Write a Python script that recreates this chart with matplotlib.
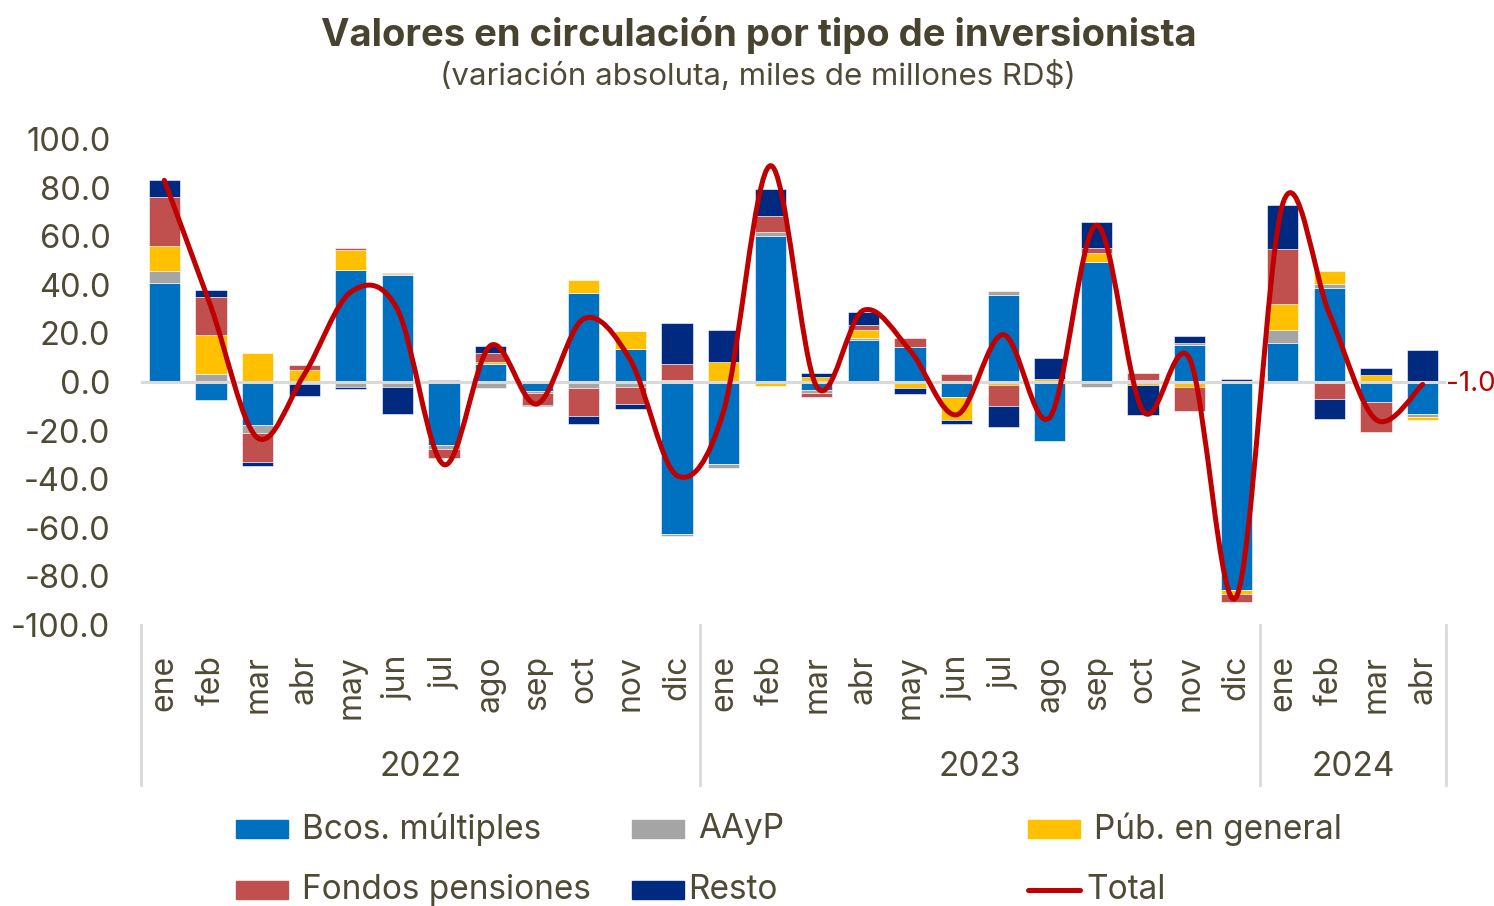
import numpy as np
import matplotlib
matplotlib.use("Agg")
import matplotlib.pyplot as plt
from matplotlib.path import Path
from matplotlib.patches import PathPatch, Rectangle
from matplotlib.lines import Line2D
import matplotlib.transforms as mtransforms

plt.rcParams['font.family'] = ['Inter', 'DejaVu Sans']

meses = ['ene', 'feb', 'mar', 'abr', 'may', 'jun', 'jul', 'ago', 'sep', 'oct', 'nov', 'dic',
         'ene', 'feb', 'mar', 'abr', 'may', 'jun', 'jul', 'ago', 'sep', 'oct', 'nov', 'dic',
         'ene', 'feb', 'mar', 'abr']
anios = ['2022', '2023', '2024']
meses_por_anio = [12, 12, 4]

# variacion absoluta por tipo de inversionista (miles de millones RD$)
bcos = [40.6, -7.5, -17.8, 0.0, 46.2, 43.9, -26.1, 7.3, -3.8, 36.6, 13.4, -62.4,
        -33.9, 60.1, -3.4, 17.3, 14.5, -6.2, 35.7, -24.1, 49.4, 0.0, 15.1, -85.5,
        16.0, 38.7, -8.2, -13.0]
aayp = [5.1, 3.4, -3.2, -1.0, -2.1, -2.1, -1.3, -2.5, -0.6, -2.5, -2.1, -1.1,
        -1.4, 1.8, -1.1, 0.9, 0.0, 0.0, 1.9, 0.0, -2.1, 0.9, 0.9, 0.0,
        5.3, 1.8, 0.0, -1.4]
pub = [10.4, 15.8, 11.9, 5.1, 8.3, 0.5, 0.0, 1.1, 0.0, 5.2, 7.5, 0.7,
       8.1, -1.8, 2.1, 3.1, -2.3, -9.3, -1.1, 1.4, 3.7, -1.1, -2.2, -1.6,
       10.9, 5.0, 2.7, -1.1]
fondos = [20.2, 15.8, -11.9, 2.0, 0.5, 0.6, -3.9, 3.5, -4.9, -11.6, -6.8, 6.8,
          0.0, 6.4, -1.7, 2.1, 3.7, 3.4, -8.9, 0.0, 2.0, 2.6, -9.9, -3.4,
          22.7, -7.1, -12.4, 0.0]
resto = [6.8, 2.7, -1.7, -4.8, -0.8, -11.2, 0.7, 2.9, -0.6, -3.0, -2.1, 16.9,
         13.2, 11.0, 1.4, 5.3, -2.5, -1.6, -8.5, 8.5, 10.7, -12.6, 2.8, 1.4,
         18.1, -8.0, 3.2, 13.3]
total = [83.0, 31.0, -23.0, 3.0, 37.0, 30.0, -34.0, 15.0, -9.0, 26.0, 9.0, -38.5,
         -12.0, 89.0, -2.0, 29.5, 13.0, -13.5, 19.5, -14.5, 64.5, -12.0, 9.5, -88.5,
         73.5, 28.0, -15.5, -1.0]

series = [('Bcos. múltiples', bcos, '#0070C0'),
          ('AAyP', aayp, '#A5A5A5'),
          ('Púb. en general', pub, '#FFC000'),
          ('Fondos pensiones', fondos, '#C0504D'),
          ('Resto', resto, '#002A80')]
color_total = '#C00000'
color_texto = '#4F4A35'
color_linea = '#D9D9D9'

W, H = 1494, 906
fig = plt.figure(figsize=(W / 100, H / 100), dpi=100)
ax = fig.add_axes([141 / W, 1 - 625 / H, 1305 / W, 486 / H])

x = np.arange(len(meses))
pos_base = np.zeros(len(x))
neg_base = np.zeros(len(x))
for nombre, vals, col in series:
    v = np.array(vals)
    base = np.where(v >= 0, pos_base, neg_base)
    ax.bar(x, v, 0.67, bottom=base, color=col, edgecolor='white', linewidth=0.4, zorder=2)
    pos_base += np.where(v >= 0, v, 0)
    neg_base += np.where(v < 0, v, 0)

ax.axhline(0, color=color_linea, lw=2.2, zorder=3)

# linea suavizada (catmull-rom en bezier cubicas)
pts = np.column_stack([x, total]).astype(float)
ext = np.vstack([pts[0], pts, pts[-1]])
verts = [pts[0]]
codes = [Path.MOVETO]
for i in range(len(pts) - 1):
    p0, p1, p2, p3 = ext[i], ext[i + 1], ext[i + 2], ext[i + 3]
    verts += [p1 + (p2 - p0) / 6, p2 - (p3 - p1) / 6, p2]
    codes += [Path.CURVE4] * 3
ax.add_patch(PathPatch(Path(verts, codes), fill=False, ec=color_total, lw=3.6,
                       capstyle='round', joinstyle='round', zorder=4))
ax.annotate('{:.1f}'.format(total[-1]), (x[-1], total[-1]), xytext=(17, 0),
            textcoords='offset points', ha='left', va='center',
            color=color_total, fontsize=20)

ax.set_xlim(-0.5, len(x) - 0.5)
ax.set_ylim(-100, 100)
ax.set_yticks(np.arange(-100, 101, 20))
ax.set_yticklabels(['{:.1f}'.format(t) for t in np.arange(-100, 101, 20)])
ax.tick_params(axis='y', length=0, pad=22, labelsize=23.5, labelcolor=color_texto)
ax.set_xticks([])
for s in ax.spines.values():
    s.set_visible(False)

# eje de categorias en dos niveles
trans = mtransforms.blended_transform_factory(ax.transData, ax.transAxes)
for i, m in enumerate(meses):
    ax.text(i, -30 / 486, m, transform=trans, rotation=90, ha='center', va='top',
            fontsize=23, color=color_texto)
limites = np.concatenate([[0], np.cumsum(meses_por_anio)]) - 0.5
for b in limites:
    ax.plot([b, b], [0, -160 / 486], transform=trans, color=color_linea, lw=2,
            clip_on=False)
for k, a in enumerate(anios):
    ax.text((limites[k] + limites[k + 1]) / 2, -142 / 486, a, transform=trans,
            ha='center', va='center', fontsize=24, color=color_texto)

fig.text(0.508, 1 - 35 / H, 'Valores en circulación por tipo de inversionista',
         ha='center', va='center', fontsize=27.5, fontweight='bold', color='#47432E')
fig.text(0.507, 1 - 76 / H, '(variación absoluta, miles de millones RD$)',
         ha='center', va='center', fontsize=22.5, color=color_texto)

# leyenda
entradas = [(series[0], 236, 829), (series[1], 632, 829), (series[2], 1028, 829),
            (series[3], 236, 890), (series[4], 632, 890)]
for (nombre, vals, col), px, py in entradas:
    fig.add_artist(Rectangle((px / W, 1 - (py + 9) / H), 52 / W, 18 / H,
                             transform=fig.transFigure, color=col))
    dx = 66 if px != 632 or nombre == 'AAyP' else 56
    fig.text((px + dx) / W, 1 - py / H, nombre, ha='left', va='center',
             fontsize=24, color=color_texto)
fig.add_artist(Line2D([1028 / W, 1080 / W], [1 - 890 / H, 1 - 890 / H],
                      transform=fig.transFigure, color=color_total, lw=3.6,
                      solid_capstyle='round'))
fig.text(1086 / W, 1 - 890 / H, 'Total', ha='left', va='center', fontsize=24,
         color=color_texto)

fig.savefig('out.png', dpi=100)
